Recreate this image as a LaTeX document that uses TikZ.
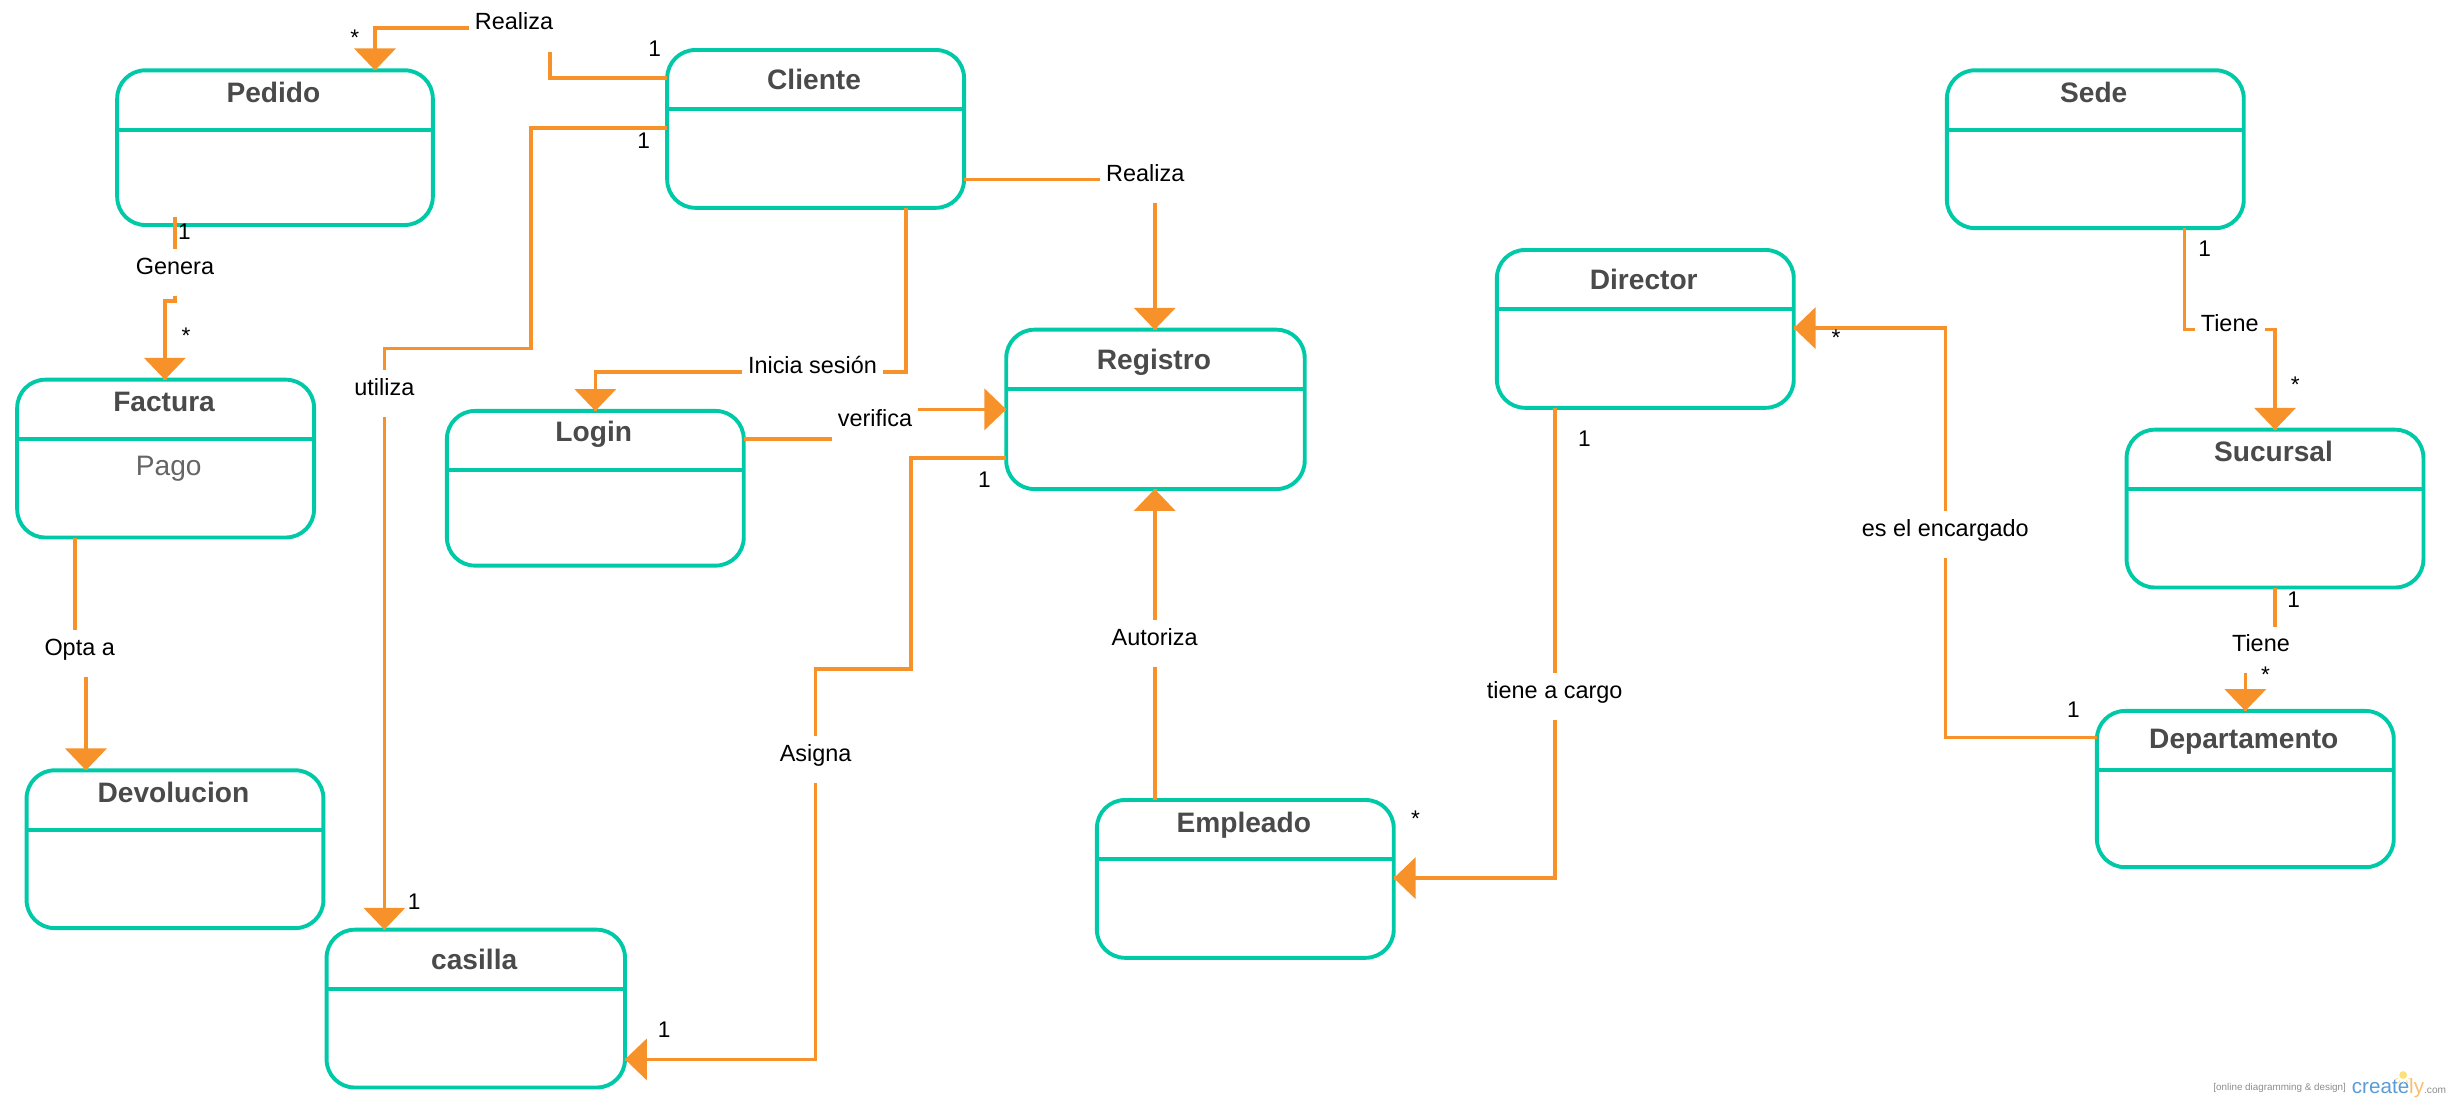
\documentclass[tikz,border=0pt]{standalone}
\usepackage{fontspec}
\setmainfont{Liberation Sans}
\definecolor{classcolor}{RGB}{0,201,167}
\definecolor{relcolor}{RGB}{247,146,43}
\definecolor{titlecolor}{RGB}{74,74,74}
\tikzset{
  classbox/.style={draw=classcolor,line width=2.5pt,rounded corners=18pt,outer sep=0pt,inner sep=0pt},
  classline/.style={draw=classcolor,line width=2.5pt},
  classtitle/.style={font=\bfseries\fontsize{18}{20}\selectfont,text=titlecolor,inner sep=0pt},
  rel/.style={draw=relcolor,line width=2.3pt},
  rellabel/.style={fill=white,font=\fontsize{15}{18}\selectfont,inner xsep=4pt,inner ysep=0pt,text height=16.2pt,text depth=13.8pt},
  mult/.style={font=\fontsize{14.5}{17}\selectfont,inner sep=0pt}
}

\begin{document}
\begin{tikzpicture}[x=1pt,y=-1pt]
\useasboundingbox (0,0) rectangle (1568,705.92);
% classes
\foreach \nm/\cx/\cy/\boxw/\boxh/\off/\ttl in {
  pedido/176/94.5/202/99/14/Pedido,
  cliente/522/82.5/190/101/19/Cliente,
  factura/106/293.5/190/101/14/Factura,
  login/381/312.5/190/99/15/Login,
  registro/739.5/262/191/102/21/Registro,
  devolucion/112/543.5/190/101/14/Devolucion,
  casilla/304.5/645.5/191/101/19/casilla,
  empleado/797/562.5/190/101/16/Empleado,
  director/1053/210.5/190/101/19/Director,
  sede/1341/95.5/190/101/14/Sede,
  sucursal/1456/325.5/190/101/14/Sucursal,
  departamento/1437/505/190/100/20/Departamento}
{
  \node [classbox,minimum width=\boxw pt,minimum height=\boxh pt] (\nm) at (\cx,\cy) {};
  \node [classtitle,xshift=-1pt,yshift=-\off pt] (\nm-title) at (\nm.north) {\ttl};
  \draw [classline] ([yshift=-38pt]\nm.north west) -- ([yshift=-38pt]\nm.north east);
}
\node [font=\fontsize{18}{20}\selectfont,text=titlecolor!85,inner sep=0pt] (pago) at (108,300) {Pago};
% Cliente - Pedido
\draw [rel] (cliente.west |- 0,50) -- (352,50) -- (352,18) -- (240,18) -- (pedido.north -| 240,0);
\fill [relcolor] (pedido.north -| 240,0) -- ++(-13.4,-14) -- ++(26.8,0);
\node [rellabel] (realiza-pedido) at (329,18) {Realiza};
% Pedido - Factura
\draw [rel] (pedido.south -| 112,0) ++(0,-5) -- (112,192.5) -- (105.5,192.5) -- (factura.north -| 105.5,0);
\fill [relcolor] (factura.north -| 105.5,0) -- ++(-13.4,-14) -- ++(26.8,0);
\node [rellabel] (genera) at (112,174.5) {Genera};
% Cliente - casilla
\draw [rel] (cliente.west |- 0,82) -- (340,82) -- (340,223) -- (246,223) -- (casilla.north -| 246,0);
\fill [relcolor] (casilla.north -| 246,0) -- ++(-13.4,-14) -- ++(26.8,0);
\node [rellabel] (utiliza) at (246,252) {utiliza};
% Cliente - Login
\draw [rel] (cliente.south -| 580,0) -- (580,238) -- (381,238) -- (login.north);
\fill [relcolor] (login.north) -- ++(-13.4,-14) -- ++(26.8,0);
\node [rellabel] (inicia) at (520,238) {Inicia sesión};
% Cliente - Registro
\draw [rel] (cliente.east |- 0,115) -- (739,115) -- (registro.north -| 739,0);
\fill [relcolor] (registro.north -| 739,0) -- ++(-13.4,-14) -- ++(26.8,0);
\node [rellabel] (realiza-registro) at (733,115) {Realiza};
% Login - Registro
\draw [rel] (login.east |- 0,281) -- (560,281) -- (560,262) -- (registro.west |- 0,262);
\fill [relcolor] (registro.west |- 0,262) -- ++(-14,-13.4) -- ++(0,26.8);
\node [rellabel] (verifica) at (560,271.5) {verifica};
% Registro - casilla
\draw [rel] (registro.west |- 0,293) -- (583,293) -- (583,428) -- (522,428) -- (522,678) -- (casilla.east |- 0,678);
\fill [relcolor] (casilla.east |- 0,678) -- ++(14,-13.4) -- ++(0,26.8);
\node [rellabel] (asigna) at (522,486) {Asigna};
% Empleado - Registro
\draw [rel] (empleado.north -| 739,0) -- (registro.south -| 739,0);
\fill [relcolor] (registro.south -| 739,0) -- ++(-13.4,14) -- ++(26.8,0);
\node [rellabel] (autoriza) at (739,412) {Autoriza};
% Director - Empleado
\draw [rel] (director.south -| 995,0) -- (995,562) -- (empleado.east |- 0,562);
\fill [relcolor] (empleado.east |- 0,562) -- ++(14,-13.4) -- ++(0,26.8);
\node [rellabel] (cargo) at (995,446) {tiene a cargo};
% Departamento - Director
\draw [rel] (departamento.west |- 0,472) -- (1245,472) -- (1245,210) -- (director.east |- 0,210);
\fill [relcolor] (director.east |- 0,210) -- ++(14,-13.4) -- ++(0,26.8);
\node [rellabel] (encargado) at (1245,342) {es el encargado};
% Sede - Sucursal
\draw [rel] (sede.south -| 1398,0) -- (1398,211) -- (1456,211) -- (sucursal.north);
\fill [relcolor] (sucursal.north) -- ++(-13.4,-14) -- ++(26.8,0);
\node [rellabel] (tiene-sucursal) at (1427,211) {Tiene};
% Sucursal - Departamento
\draw [rel] (sucursal.south) -- (1456,416) -- (1437,416) -- (departamento.north);
\fill [relcolor] (departamento.north) -- ++(-13.4,-14) -- ++(26.8,0);
\node [rellabel] (tiene-departamento) at (1447,416) {Tiene};
% Factura - Devolucion
\draw [rel] (factura.south -| 48,0) -- (48,418) -- (55,418) -- (devolucion.north -| 55,0);
\fill [relcolor] (devolucion.north -| 55,0) -- ++(-13.4,-14) -- ++(26.8,0);
\node [rellabel] (opta) at (51,418) {Opta a};
% multiplicities
\foreach \i/\mx/\my/\mt in {
  1/227/24/*, 2/419/31/1, 3/412/90/1, 4/118/148/1, 5/119/215/*, 6/265/577/1,
  7/630/307/1, 8/425/659/1, 9/906/524/*, 10/1014/281/1, 11/1175/216/*, 12/1327/454/1,
  13/1411/159/1, 14/1469/246/*, 15/1468/384/1, 16/1450/432/*}
{
  \node [mult] (m\i) at (\mx,\my) {\mt};
}
% watermark
\node [font=\fontsize{6.3}{8}\selectfont,text=black!45,inner sep=0pt] (wm-text) at (1459,696) {[online diagramming \& design]};
\node [font=\fontsize{13.2}{15}\selectfont,inner sep=0pt,anchor=base west] (wm-logo) at (1505,700) {\textcolor[RGB]{91,155,213}{create}\textcolor[RGB]{250,190,110}{ly}\textcolor{black!45}{\fontsize{6.5}{8}\selectfont.com}};
\fill [yellow!60!orange!50] (1538,688) circle (2.5);
\foreach \a in {-150,-120,-90,-60,-30}
  \draw [yellow!60!orange!60,line width=.5pt] (1538,688) ++(\a:-4) -- ++(\a:-2);
\end{tikzpicture}
\end{document}
